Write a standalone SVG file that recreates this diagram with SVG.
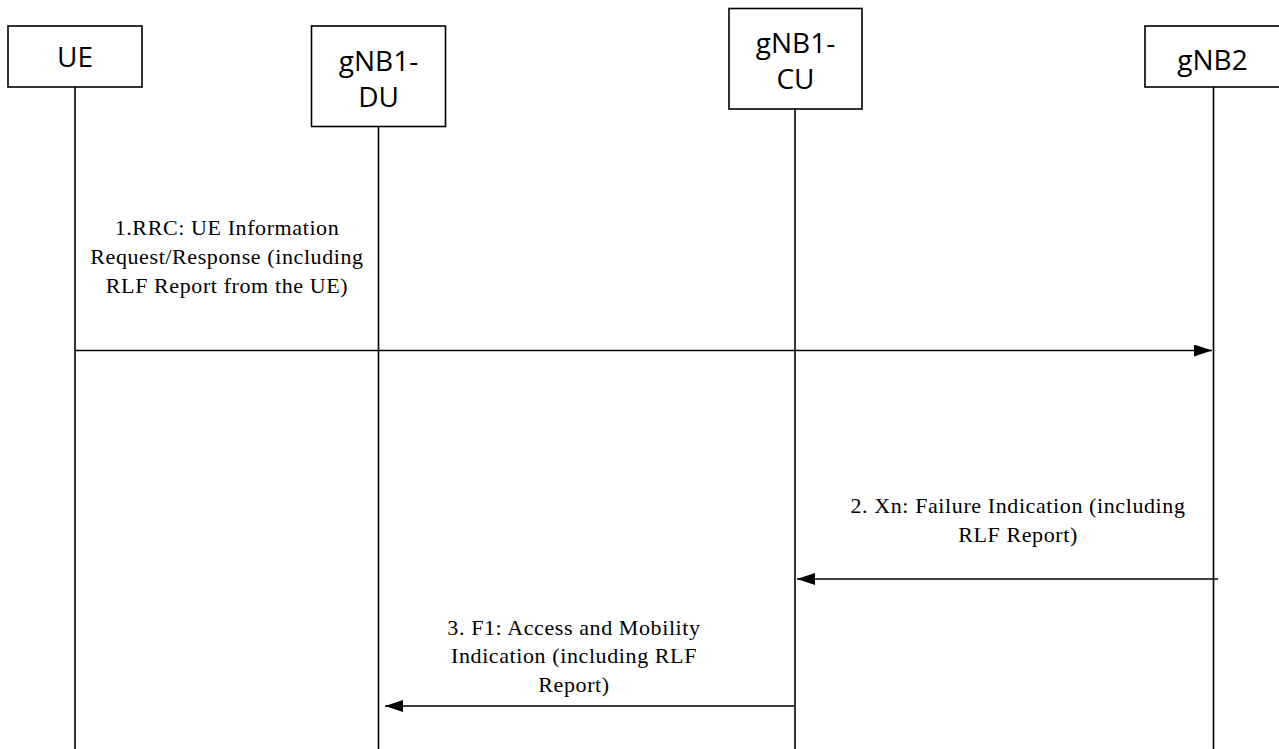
<svg xmlns="http://www.w3.org/2000/svg" width="1279" height="749" viewBox="0 0 1279 749">
<style>
.box{fill:#fff;stroke:#000;stroke-width:1.6}
.life{stroke:#000;stroke-width:1.6;fill:none}
.msg{stroke:#000;stroke-width:1.6;fill:none}
.nt{font-family:"Open Sans",sans-serif;font-size:28px;fill:#000;text-anchor:middle}
.lt{font-family:"Liberation Serif",serif;font-size:22px;letter-spacing:0.6px;fill:#000;text-anchor:middle}
</style>
<defs>
<marker id="ah" markerWidth="18" markerHeight="12" refX="18" refY="6" orient="auto" markerUnits="userSpaceOnUse">
<path d="M0,0 L18,6 L0,12 Z" fill="#000"/>
</marker>
</defs>
<rect width="1279" height="749" fill="#fff"/>
<g id="UE">
<rect class="box" x="8" y="26" width="134" height="61"/>
<text class="nt" x="75" y="67">UE</text>
<line class="life" x1="75" y1="87" x2="75" y2="749"/>
</g>
<g id="gNB1-DU">
<rect class="box" x="311.5" y="26" width="134" height="100.5"/>
<text class="nt" x="378.5" y="71">gNB1-</text>
<text class="nt" x="378.5" y="107">DU</text>
<line class="life" x1="378.5" y1="126.5" x2="378.5" y2="749"/>
</g>
<g id="gNB1-CU">
<rect class="box" x="729" y="8.5" width="133" height="100.5"/>
<text class="nt" x="795.5" y="53">gNB1-</text>
<text class="nt" x="795.5" y="89">CU</text>
<line class="life" x1="795" y1="109" x2="795" y2="749"/>
</g>
<g id="gNB2">
<rect class="box" x="1145" y="26" width="135" height="61"/>
<text class="nt" x="1212.5" y="70">gNB2</text>
<line class="life" x1="1213.5" y1="87" x2="1213.5" y2="749"/>
</g>
<g id="connectors">
<line class="msg" x1="75" y1="350.5" x2="1212" y2="350.5" marker-end="url(#ah)"/>
<line class="msg" x1="1218" y1="579" x2="797" y2="579" marker-end="url(#ah)"/>
<line class="msg" x1="794" y1="706" x2="385" y2="706" marker-end="url(#ah)"/>
</g>
<g id="labels">
<text class="lt" x="227" y="235">1.RRC: UE Information</text>
<text class="lt" x="227" y="264">Request/Response (including</text>
<text class="lt" x="227" y="293">RLF Report from the UE)</text>
<text class="lt" x="1018" y="513">2. Xn: Failure Indication (including</text>
<text class="lt" x="1018" y="542">RLF Report)</text>
<text class="lt" x="574" y="635">3. F1: Access and Mobility</text>
<text class="lt" x="574" y="663">Indication (including RLF</text>
<text class="lt" x="574" y="692">Report)</text>
</g>
</svg>
